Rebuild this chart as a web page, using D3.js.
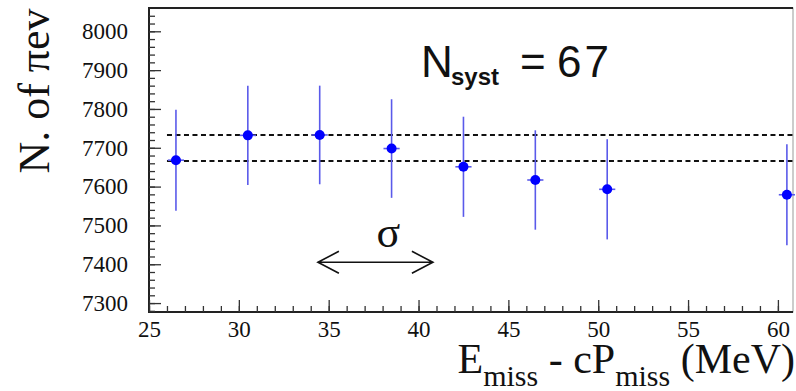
<!DOCTYPE html>
<html>
<head>
<meta charset="utf-8">
<script src="https://cdn.jsdelivr.net/npm/d3@7"></script>
<style>
  body { margin: 0; background: #fff; }
  svg { display: block; }
  .tick text { font-family: "Liberation Serif", "Times New Roman", serif; font-size: 23px; fill: #111; }
  .serif { font-family: "Liberation Serif", "Times New Roman", serif; }
  .sans { font-family: "Liberation Sans", Arial, sans-serif; }
</style>
</head>
<body>
<div id="chart"></div>
<script>
// data
var energyCut = [26.5, 30.5, 34.5, 38.5, 42.5, 46.5, 50.5, 60.5];
var nPiEv = [7668, 7732, 7733, 7698, 7651, 7617, 7593, 7579];
var nPiErr = [130, 128, 127, 127, 129, 128, 129, 130];
var cutHalfWidth = 0.45;
var systLines = [7733, 7666];
var systStart = 26;
var yMajor = [7300, 7400, 7500, 7600, 7700, 7800, 7900, 8000];
var yMinor = d3.range(7280, 8060, 20);
var xMajor = [25, 30, 35, 40, 45, 50, 55, 60];
var xMinor = d3.range(25, 61, 1);
var sigmaArrow = { from: 34.4, to: 40.8, y: 7405 };

var svgWidth = 796, svgHeight = 391;
var plot = { left: 149, right: 793, top: 8, bottom: 312 };

var svg = d3.select("#chart").append("svg")
    .attr("width", svgWidth)
    .attr("height", svgHeight);

var xScale = d3.scaleLinear()
    .domain([25, 60.84])
    .range([plot.left, plot.right]);

var yScale = d3.scaleLinear()
    .domain([7277, 8060])
    .range([plot.bottom, plot.top]);

// frame
svg.append("rect")
    .attr("x", plot.left)
    .attr("y", plot.top)
    .attr("width", plot.right - plot.left)
    .attr("height", plot.bottom - plot.top)
    .attr("fill", "none")
    .attr("stroke", "#999")
    .attr("stroke-width", 1);
svg.append("path")
    .attr("d", `M${plot.right},${plot.top}H${plot.left}V${plot.bottom}H${plot.right}`)
    .attr("fill", "none")
    .attr("stroke", "#222")
    .attr("stroke-width", 2);

// y axis: minor then major (ticks point inward)
svg.append("g")
    .attr("transform", `translate(${plot.left},0)`)
    .call(d3.axisLeft(yScale).tickValues(yMinor).tickSize(-6).tickSizeOuter(0).tickFormat(""))
    .call(g => g.select(".domain").remove())
    .selectAll("line").attr("stroke", "#333").attr("stroke-width", 1.3);

var yAxis = svg.append("g")
    .attr("transform", `translate(${plot.left},0)`)
    .call(d3.axisLeft(yScale).tickValues(yMajor).tickSize(-12).tickSizeOuter(0).tickPadding(21).tickFormat(d3.format("d")));
yAxis.select(".domain").remove();
yAxis.selectAll("line").attr("stroke", "#333").attr("stroke-width", 1.3);

// x axis
svg.append("g")
    .attr("transform", `translate(0,${plot.bottom})`)
    .call(d3.axisBottom(xScale).tickValues(xMinor).tickSize(-6).tickSizeOuter(0).tickFormat(""))
    .call(g => g.select(".domain").remove())
    .selectAll("line").attr("stroke", "#333").attr("stroke-width", 1.3);

var xAxis = svg.append("g")
    .attr("transform", `translate(0,${plot.bottom})`)
    .call(d3.axisBottom(xScale).tickValues(xMajor).tickSize(-12).tickSizeOuter(0).tickPadding(9));
xAxis.select(".domain").remove();
xAxis.selectAll("line").attr("stroke", "#333").attr("stroke-width", 1.3);

// systematic band lines
svg.selectAll("line.syst")
    .data(systLines)
    .enter()
    .append("line")
    .classed("syst", true)
    .attr("x1", xScale(systStart))
    .attr("x2", plot.right)
    .attr("y1", d => yScale(d))
    .attr("y2", d => yScale(d))
    .attr("stroke", "#111")
    .attr("stroke-width", 2)
    .attr("stroke-dasharray", "5,3.5");

// error bars
var points = energyCut.map((x, i) => ({ x: x, y: nPiEv[i], e: nPiErr[i] }));

svg.selectAll("line.ey")
    .data(points)
    .enter()
    .append("line")
    .classed("ey", true)
    .attr("x1", d => xScale(d.x))
    .attr("x2", d => xScale(d.x))
    .attr("y1", d => yScale(d.y + d.e))
    .attr("y2", d => yScale(d.y - d.e))
    .attr("stroke", "#5a5aea")
    .attr("stroke-width", 1.6);

svg.selectAll("line.ex")
    .data(points)
    .enter()
    .append("line")
    .classed("ex", true)
    .attr("x1", d => xScale(d.x - cutHalfWidth))
    .attr("x2", d => xScale(d.x + cutHalfWidth))
    .attr("y1", d => yScale(d.y))
    .attr("y2", d => yScale(d.y))
    .attr("stroke", "#5a5aea")
    .attr("stroke-width", 1.6);

svg.selectAll("circle")
    .data(points)
    .enter()
    .append("circle")
    .attr("cx", d => xScale(d.x))
    .attr("cy", d => yScale(d.y))
    .attr("r", 5)
    .attr("fill", "#0000ff");

// sigma arrow
var ax1 = xScale(sigmaArrow.from), ax2 = xScale(sigmaArrow.to), ay = yScale(sigmaArrow.y);
svg.append("path")
    .attr("d", `M${ax1},${ay}H${ax2}M${ax1 + 21},${ay - 11}L${ax1},${ay}L${ax1 + 21},${ay + 11}M${ax2 - 21},${ay - 11}L${ax2},${ay}L${ax2 - 21},${ay + 11}`)
    .attr("fill", "none")
    .attr("stroke", "#111")
    .attr("stroke-width", 1.6);

svg.append("text")
    .classed("serif", true)
    .attr("x", (ax1 + ax2) / 2 + 13)
    .attr("y", ay - 15)
    .attr("text-anchor", "middle")
    .attr("font-size", "44px")
    .attr("fill", "#111")
    .text("σ");

// N_syst label
var nLabel = svg.append("text")
    .classed("sans", true)
    .attr("y", 77)
    .attr("font-size", "44px")
    .attr("fill", "#111");
nLabel.append("tspan").attr("x", 421).text("N");
nLabel.append("tspan")
    .attr("x", 451)
    .attr("dy", 8)
    .attr("font-size", "24px")
    .attr("font-weight", "bold")
    .text("syst");
nLabel.append("tspan")
    .attr("x", 520)
    .attr("dy", -8)
    .text("=");
nLabel.append("tspan")
    .attr("x", 557)
    .attr("letter-spacing", 3)
    .text("67");

// axis titles
svg.append("text")
    .classed("serif", true)
    .attr("transform", "rotate(-90)")
    .attr("x", -91)
    .attr("y", 49)
    .attr("text-anchor", "middle")
    .attr("font-size", "44px")
    .attr("fill", "#111")
    .text("N. of πev");

var xTitle = svg.append("text")
    .classed("serif", true)
    .attr("x", 795)
    .attr("y", 373)
    .attr("text-anchor", "end")
    .attr("font-size", "42px")
    .attr("fill", "#111");
xTitle.append("tspan").text("E");
xTitle.append("tspan").attr("font-size", "30px").attr("dy", 13).text("miss");
xTitle.append("tspan").attr("dy", -13).text(" - cP");
xTitle.append("tspan").attr("font-size", "30px").attr("dy", 13).text("miss");
xTitle.append("tspan").attr("dy", -13).text(" (MeV)");
</script>
</body>
</html>
